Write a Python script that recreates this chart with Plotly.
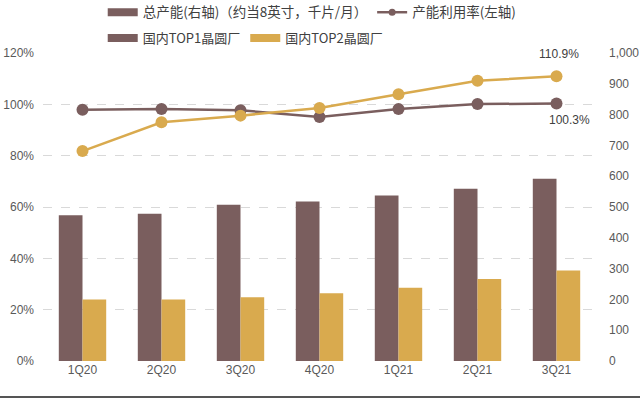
import plotly.graph_objects as go

categories = ["1Q20", "2Q20", "3Q20", "4Q20", "1Q21", "2Q21", "3Q21"]
top1_capacity = [473, 478, 507, 518, 537, 559, 592]
top2_capacity = [200, 200, 207, 220, 238, 266, 294]
top1_util = [0.979, 0.982, 0.977, 0.951, 0.982, 1.001, 1.003]
top2_util = [0.818, 0.930, 0.956, 0.986, 1.039, 1.092, 1.109]

left_ticks = [0, 0.2, 0.4, 0.6, 0.8, 1.0, 1.2]
right_ticks = [0, 100, 200, 300, 400, 500, 600, 700, 800, 900, 1000]

BROWN = "#7A5E5E"
GOLD = "#D9AA4E"
FONT = "Liberation Sans, Arial, Noto Sans CJK SC, sans-serif"
CJK = "Noto Sans CJK SC, Liberation Sans, sans-serif"

fig = go.Figure()

# legend row 1 (key entries)
fig.add_trace(go.Scatter(x=[None], y=[None], name="总产能(右轴)（约当8英寸，千片/月）", mode="lines",
                         line=dict(color=BROWN, width=8), legend="legend", yaxis="y"))
fig.add_trace(go.Scatter(x=[None], y=[None], name="产能利用率(左轴)", mode="lines+markers",
                         line=dict(color=BROWN, width=2.5), marker=dict(size=7, color=BROWN),
                         legend="legend", yaxis="y"))
# legend row 2 (key entries for the bars)
fig.add_trace(go.Scatter(x=[None], y=[None], name="国内TOP1晶圆厂", mode="lines",
                         line=dict(color=BROWN, width=8), legend="legend2", yaxis="y"))
fig.add_trace(go.Scatter(x=[None], y=[None], name="国内TOP2晶圆厂", mode="lines",
                         line=dict(color=GOLD, width=8), legend="legend2", yaxis="y"))

# bars
fig.add_trace(go.Bar(x=categories, y=top1_capacity, name="国内TOP1晶圆厂", marker_color=BROWN,
                     marker_line_width=0, offset=-0.3, width=0.3, showlegend=False, yaxis="y2"))
fig.add_trace(go.Bar(x=categories, y=top2_capacity, name="国内TOP2晶圆厂", marker_color=GOLD,
                     marker_line_width=0, offset=0.0, width=0.3, showlegend=False, yaxis="y2"))

# utilization lines
fig.add_trace(go.Scatter(x=categories, y=top1_util, mode="lines+markers", showlegend=False,
                         line=dict(color=BROWN, width=2.5), marker=dict(size=12, color=BROWN),
                         yaxis="y"))
fig.add_trace(go.Scatter(x=categories, y=top2_util, mode="lines+markers", showlegend=False,
                         line=dict(color=GOLD, width=2.5), marker=dict(size=12, color=GOLD),
                         yaxis="y"))

fig.add_annotation(x=categories[-1], y=top2_util[-1], text=f"{top2_util[-1]*100:.1f}%",
                   showarrow=False, yshift=22, xshift=2, xref="x", yref="y",
                   font=dict(family=FONT, size=12, color="#404040"))
fig.add_annotation(x=categories[-1], y=top1_util[-1], text=f"{top1_util[-1]*100:.1f}%",
                   showarrow=False, yshift=-16, xshift=13, xref="x", yref="y",
                   font=dict(family=FONT, size=12, color="#404040"))

fig.add_shape(type="line", xref="paper", yref="paper", x0=-0.1, x1=1.1,
              y0=-0.117, y1=-0.117, line=dict(color="#555555", width=2))

fig.update_layout(
    width=640, height=399,
    margin=dict(l=43, r=44, t=53, b=38, autoexpand=False),
    plot_bgcolor="white", paper_bgcolor="white",
    barmode="overlay",
    font=dict(family=FONT, size=12, color="#595959"),
    xaxis=dict(type="category", range=[-0.5, 6.5], showgrid=False, showline=False,
               ticks="", tickfont=dict(size=12, color="#595959")),
    yaxis=dict(range=[0, 1.2], tickvals=left_ticks, tickformat=".0%", showgrid=True,
               gridcolor="#D9D9D9", griddash="dash", gridwidth=1, zeroline=False,
               showline=False, ticks="", ticklabelstandoff=8,
               tickfont=dict(size=12, color="#595959")),
    yaxis2=dict(range=[0, 1000], tickvals=right_ticks, tickformat=",", overlaying="y",
                side="right", showgrid=False, zeroline=False, showline=False, ticks="",
                ticklabelstandoff=12, tickfont=dict(size=12, color="#595959")),
    legend=dict(orientation="h", x=0.108, xanchor="left", y=1.182, yanchor="top",
                font=dict(family=CJK, size=13.5, color="#404040"), bgcolor="rgba(0,0,0,0)",
                itemwidth=30, tracegroupgap=0),
    legend2=dict(orientation="h", x=0.108, xanchor="left", y=1.097, yanchor="top",
                 font=dict(family=CJK, size=13, color="#404040"), bgcolor="rgba(0,0,0,0)",
                 itemwidth=30, tracegroupgap=0),
)

fig.write_html("out.html", config={"displayModeBar": False},
               post_script="document.body.style.margin='0';document.body.style.overflow='hidden';")
